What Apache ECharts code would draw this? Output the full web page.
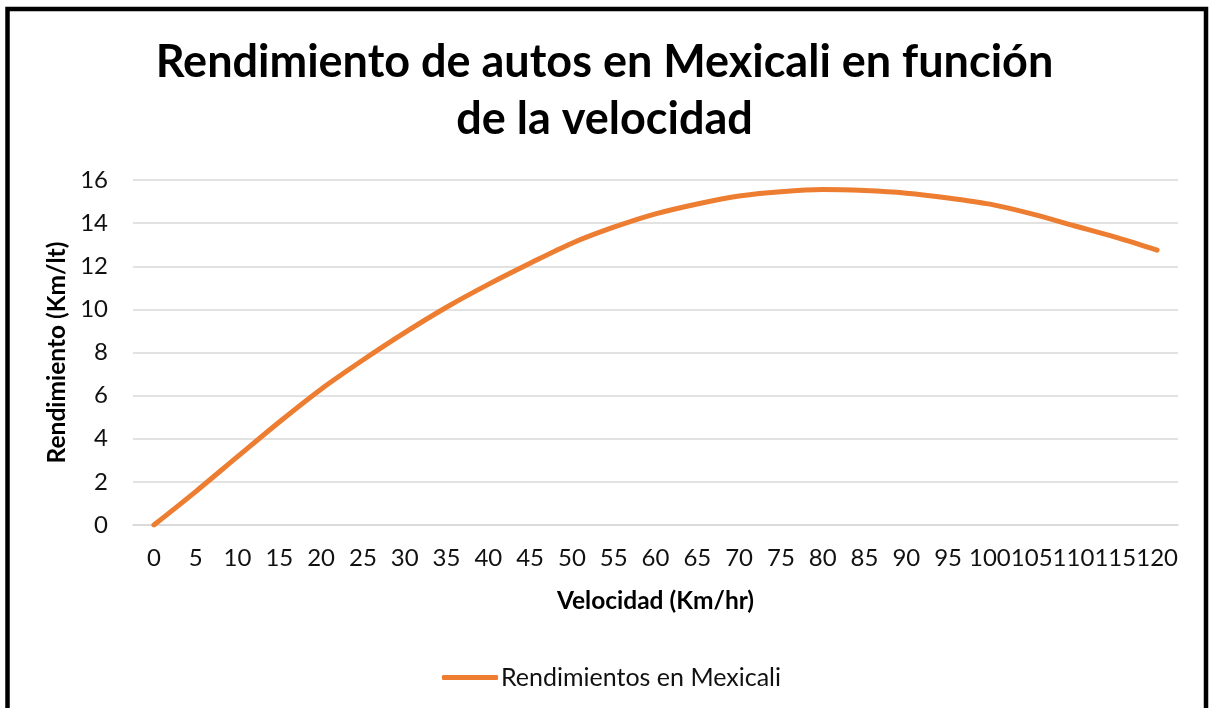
<!DOCTYPE html>
<html>
<head>
<meta charset="utf-8">
<script src="https://cdn.jsdelivr.net/npm/echarts@6/dist/echarts.min.js"></script>
<style>
  html, body { margin: 0; padding: 0; background: #fff; }
  #main { width: 1209px; height: 708px; }
</style>
</head>
<body>
<div id="main"></div>
<script>
// velocidad (km/hr)
const velocidades = ['0', '5', '10', '15', '20', '25', '30', '35', '40', '45', '50', '55', '60',
  '65', '70', '75', '80', '85', '90', '95', '100', '105', '110', '115', '120']
// rendimiento (km/lt)
const rendimientos = [0, 1.55, 3.17, 4.78, 6.3, 7.65, 8.92, 10.1, 11.16, 12.14, 13.07, 13.81, 14.43,
  14.89, 15.26, 15.46, 15.56, 15.51, 15.39, 15.17, 14.88, 14.43, 13.89, 13.35, 12.75]
const yTicks = { min: 0, max: 16, interval: 2 }

const FONT = 'Lato'
const chart = echarts.init(document.getElementById('main'))
chart.setOption({
  animation: false,
  backgroundColor: '#fff',
  title: {
    text: 'Rendimiento de autos en Mexicali en función\nde la velocidad',
    left: 'center',
    top: 29,
    textStyle: {
      fontFamily: FONT,
      fontWeight: 'bold',
      fontSize: 45,
      lineHeight: 57,
      color: '#000'
    }
  },
  legend: {
    left: 437,
    top: 660,
    itemWidth: 56,
    itemHeight: 5,
    itemGap: 10,
    icon: 'roundRect',
    data: ['Rendimientos en Mexicali'],
    textStyle: { fontFamily: FONT, fontSize: 25, color: '#111', padding: [0, 0, 0, -2] }
  },
  grid: { left: 133, right: 31, top: 180, bottom: 183 },
  xAxis: {
    type: 'category',
    data: velocidades,
    boundaryGap: true,
    name: 'Velocidad (Km/hr)',
    nameLocation: 'middle',
    nameGap: 64,
    nameTextStyle: { fontFamily: FONT, fontWeight: 'bold', fontSize: 24.5, color: '#000' },
    axisLine: { show: true, lineStyle: { color: '#d9d9d9', width: 1.5 } },
    axisTick: { show: false },
    axisLabel: { interval: 0, margin: 21, fontFamily: FONT, fontSize: 24, color: '#111' },
    splitLine: { show: false }
  },
  yAxis: {
    type: 'value',
    min: yTicks.min,
    max: yTicks.max,
    interval: yTicks.interval,
    name: 'Rendimiento (Km/lt)',
    nameLocation: 'middle',
    nameGap: 62,
    nameTextStyle: { fontFamily: FONT, fontWeight: 'bold', fontSize: 24.5, color: '#000' },
    axisLine: { show: false },
    axisTick: { show: false },
    axisLabel: { margin: 25, fontFamily: FONT, fontSize: 24, color: '#111' },
    splitLine: { show: true, lineStyle: { color: '#d9d9d9', width: 1.5 } }
  },
  series: [
    {
      name: 'Rendimientos en Mexicali',
      type: 'line',
      data: rendimientos,
      smooth: 0.3,
      showSymbol: false,
      symbol: 'none',
      color: '#ED7D31',
      lineStyle: { width: 5, color: '#ED7D31', cap: 'round' }
    }
  ],
  graphic: [
    {
      type: 'rect',
      shape: { x: 7.5, y: 9, width: 1198.5, height: 800 },
      style: { fill: 'none', stroke: '#000', lineWidth: 4.5 },
      silent: true,
      z: 100
    }
  ]
})
</script>
</body>
</html>
